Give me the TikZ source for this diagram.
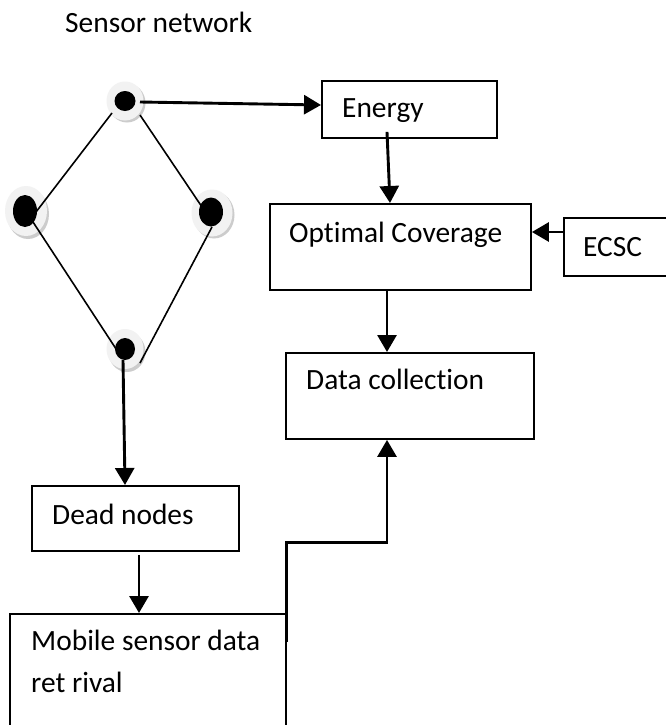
\documentclass[tikz,border=0pt]{standalone}
\usepackage{fontspec}
\setmainfont[Ligatures=NoCommon]{Carlito}
\usetikzlibrary{arrows.meta,calc,shapes.geometric}
\begin{document}
\begin{tikzpicture}[x=1pt,y=-1pt,
  box/.style={draw=black,line width=1.9pt,rectangle,inner sep=0pt,anchor=north west},
  txt/.style={inner sep=0pt,anchor=base west,font=\fontsize{29.4}{34}\selectfont},
  arr/.style={draw=black,line width=2.9pt,-{Triangle[length=17pt 0 0,width=19pt 0 0]}},
  dedge/.style={draw=black,line width=1.6pt},
  halo/.style={ellipse,inner sep=0pt,fill=gray!10},
  nshadow/.style={ellipse,inner sep=0pt,fill=gray!40},
  sdot/.style={ellipse,inner sep=0pt,fill=black}]
\useasboundingbox (0,0) rectangle (666,725);
\clip (0,0) rectangle (666,725);
\fill[white] (0,0) rectangle (666,725);

% title
\node[txt] (title) at (65,33) {Sensor network};

% sensor nodes: shadow, halo
\node[nshadow,minimum width=37pt,minimum height=39pt] (s1) at (127,103) {};
\node[halo,minimum width=37pt,minimum height=39pt] (h1) at (125,101) {};
\node[nshadow,minimum width=42pt,minimum height=50pt] (s2) at (28,214) {};
\node[halo,minimum width=42pt,minimum height=50pt] (h2) at (26,211) {};
\node[nshadow,minimum width=41pt,minimum height=47pt] (s3) at (214,215) {};
\node[halo,minimum width=41pt,minimum height=47pt] (h3) at (212,213) {};
\node[nshadow,minimum width=37pt,minimum height=40pt] (s4) at (127,352) {};
\node[halo,minimum width=37pt,minimum height=40pt] (h4) at (125,349) {};

% diamond edges
\draw[dedge] ($(h1)+(-13,12)$) -- ($(h2)+(10,1)$);
\draw[dedge] ($(h1)+(15,14)$) -- ($(h3)+(-10,-6)$);
\draw[dedge] ($(h2)+(7,11)$) -- ($(h4)+(-3,9)$);
\draw[dedge] ($(h3)+(0,14)$) -- ($(h4)+(15,14)$);

% black dots
\node[sdot,minimum width=21pt,minimum height=20pt] (n1) at (125,101) {};
\node[sdot,minimum width=24pt,minimum height=32pt] (n2) at (25,211) {};
\node[sdot,minimum width=24pt,minimum height=29pt] (n3) at (211,212) {};
\node[sdot,minimum width=20pt,minimum height=22pt] (n4) at (125,349) {};

% boxes
\node[box,minimum width=175pt,minimum height=57pt] (energy) at (321,80) {};
\node[txt] (energyt) at (342,117) {Energy};
\node[box,minimum width=261pt,minimum height=86pt] (optimal) at (269,203) {};
\node[txt] (optimalt) at (289,242) {Optimal Coverage};
\node[box,minimum width=130pt,minimum height=58pt] (ecsc) at (563,217) {};
\node[txt] (ecsct) at (583,256) {ECSC};
\node[box,minimum width=248pt,minimum height=86pt] (data) at (285,352) {};
\node[txt] (datat) at (306,389) {Data collection};
\node[box,minimum width=207pt,minimum height=65pt] (dead) at (31,485) {};
\node[txt] (deadt) at (52,524) {Dead nodes};
\node[box,minimum width=276pt,minimum height=140pt] (mobile) at (9,613) {};
\node[txt] (mob1) at (31,650) {Mobile sensor data};
\node[txt] (mob2) at (31,692) {ret rival};

% arrows
\draw[arr] ($(n1)+(15,1)$) -- ($(energy.north west)+(0,25)$);
\draw[arr] ($(energy.south west)+(66,-7)$) -- ($(optimal.north west)+(121,0)$);
\coordinate (ea) at ($(ecsc.north west)+(0,15)$);
\draw[arr] (ea) -- (ea -| optimal.east);
\draw[arr] ($(optimal.south west)+(118,0)$) -- ($(data.north west)+(102,0)$);
\draw[arr] ($(n4)+(-2,11)$) -- (dead.north -| n4);
\draw[arr] ($(dead.south west)+(108,3)$) -- ($(mobile.north west)+(130,0)$);
\draw[arr] ($(mobile.north east)+(0,29)$) |- ($(data.south west)+(102,103)$) -- ($(data.south west)+(102,0)$);
\end{tikzpicture}
\end{document}
